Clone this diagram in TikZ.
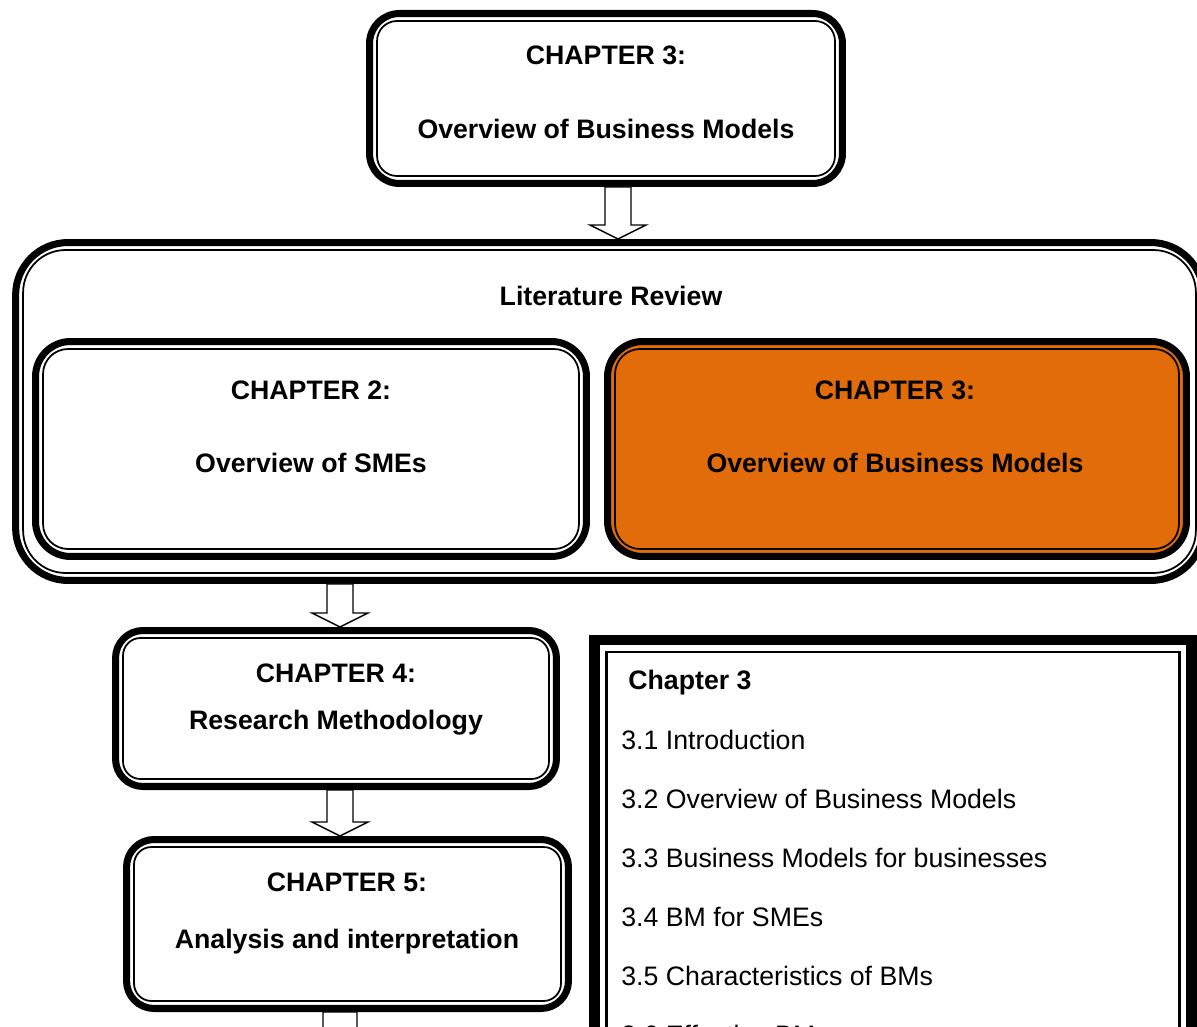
\documentclass[tikz,border=0pt]{standalone}
\usepackage{fontspec}
\setmainfont{Liberation Sans}
\usetikzlibrary{calc}

\definecolor{bmorange}{RGB}{227,108,10}

\tikzset{
  chapbox/.style={draw, line width=4pt, rounded corners=#1, inner sep=0pt},
  inframe/.style={draw, line width=1pt, rounded corners=#1},
  chaptext/.style={anchor=base, inner sep=0pt, font=\fontsize{15.2}{18}\selectfont\bfseries},
  itemtext/.style={anchor=base west, inner sep=0pt, font=\fontsize{15.2}{18}\selectfont},
  blockarrow/.style={draw, line width=0.8pt, fill=white, to path={
      ($(\tikztostart)+(-#1,0)$) -- ($(\tikztotarget)+(-#1,-14)$) -- ($(\tikztotarget)+(-28,-14)$)
      -- (\tikztotarget) -- ($(\tikztotarget)+(28,-14)$) -- ($(\tikztotarget)+(#1,-14)$)
      -- ($(\tikztostart)+(#1,0)$) -- cycle}},
  blockarrow/.default=13
}

\begin{document}
\begin{tikzpicture}[x=0.02cm, y=-0.02cm]
  \clip (0,0) rectangle (1197,1027);

  % frames
  \node[chapbox=1.05cm, fill=white, minimum width=23.76cm, minimum height=6.76cm] (lit) at (609.5,411.5) {};
  \node[chapbox=0.7cm, fill=white, minimum width=11.02cm, minimum height=4.3cm] (ch2) at (311,449) {};
  \node[chapbox=0.7cm, fill=bmorange, minimum width=11.58cm, minimum height=4.3cm] (ch3) at (897,449) {};
  \node[chapbox=0.6cm, minimum width=9.46cm, minimum height=3.4cm] (top) at (606,98.5) {};
  \node[chapbox=0.55cm, minimum width=8.82cm, minimum height=3.12cm] (ch4) at (336,708.5) {};
  \node[chapbox=0.55cm, minimum width=8.84cm, minimum height=3.38cm] (ch5) at (347.5,924) {};
  \node[draw, line width=6pt, minimum width=11.94cm, minimum height=11.2cm] (toc) at (893,920) {};

  \foreach \b/\r in {lit/0.85cm, ch2/0.5cm, ch3/0.5cm, top/0.4cm, ch4/0.35cm, ch5/0.35cm}
    \draw[inframe=\r] ([shift={(0.22cm,-0.22cm)}]\b.north west) rectangle ([shift={(-0.22cm,0.22cm)}]\b.south east);
  \draw[line width=1.4pt] ([shift={(0.34cm,-0.34cm)}]toc.north west) rectangle ([shift={(-0.34cm,0.34cm)}]toc.south east);

  % labels
  \node[chaptext] (toptitle) at (606,65) {CHAPTER 3:};
  \node[chaptext] (topsub) at (606,139) {Overview of Business Models};
  \node[chaptext] (littitle) at (611,306) {Literature Review};
  \node[chaptext] (ch2title) at (311,399) {CHAPTER 2:};
  \node[chaptext] (ch2sub) at (311,472) {Overview of SMEs};
  \node[chaptext] (ch3title) at (895,399) {CHAPTER 3:};
  \node[chaptext] (ch3sub) at (895,472) {Overview of Business Models};
  \node[chaptext] (ch4title) at (336,682) {CHAPTER 4:};
  \node[chaptext] (ch4sub) at (336,729) {Research Methodology};
  \node[chaptext] (ch5title) at (347,891) {CHAPTER 5:};
  \node[chaptext] (ch5sub) at (347,948) {Analysis and interpretation};

  % chapter 3 contents
  \node[itemtext, font=\fontsize{15.2}{18}\selectfont\bfseries] (tochead) at (628,689) {Chapter 3};
  \foreach \t [count=\i] in {Introduction, Overview of Business Models, Business Models for businesses,
      BM for SMEs, Characteristics of BMs, Effective BMs}
    \node[itemtext] (toc\i) at (621,690+59*\i) {3.\i\ \t};

  % flow
  \draw[blockarrow] (618,0 |- top.south) to (618,0 |- lit.north);
  \draw[blockarrow] (340,0 |- lit.south) to (340,0 |- ch4.north);
  \draw[blockarrow] (340,0 |- ch4.south) to (340,0 |- ch5.north);
  \draw[blockarrow=17] (340,0 |- ch5.south) to (340,1060);
\end{tikzpicture}
\end{document}
